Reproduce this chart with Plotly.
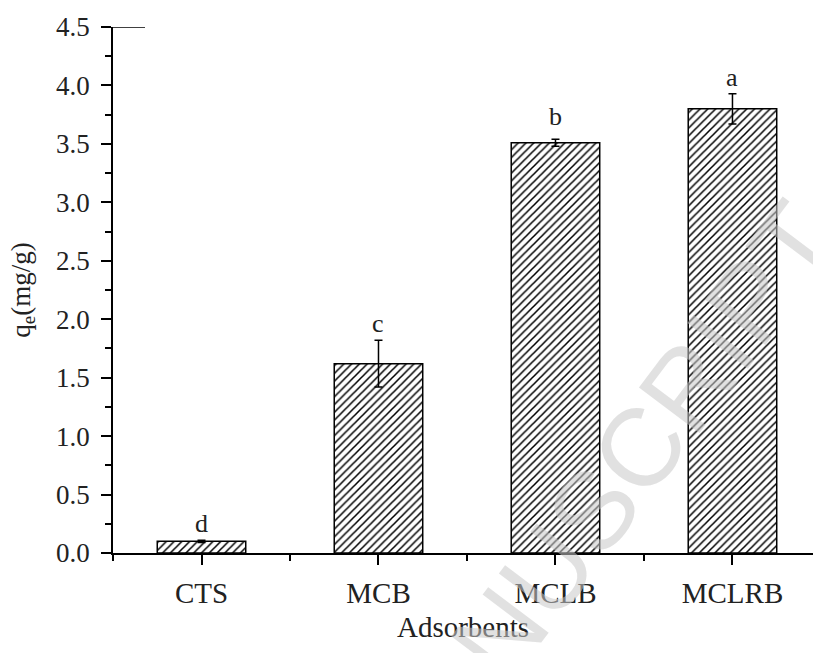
import plotly.graph_objects as go

categories = ["CTS", "MCB", "MCLB", "MCLRB"]
qe_values = [0.10, 1.62, 3.51, 3.80]
qe_errors = [0.01, 0.20, 0.03, 0.13]
sig_letters = ["d", "c", "b", "a"]
y_ticks = [0.0, 0.5, 1.0, 1.5, 2.0, 2.5, 3.0, 3.5, 4.0, 4.5]

xpos = list(range(len(categories)))

fig = go.Figure()
fig.add_trace(go.Bar(
    x=xpos, y=qe_values, width=0.5,
    marker=dict(
        color="white",
        line=dict(color="black", width=1.5),
        pattern=dict(shape="/", fgcolor="black", bgcolor="white",
                     size=5.5, solidity=0.28, fillmode="replace"),
    ),
    error_y=dict(type="data", array=qe_errors, visible=True,
                 color="black", thickness=1.5, width=4),
    showlegend=False,
))

serif = "Liberation Serif, Times New Roman, serif"

for xi, v, e, lab in zip(xpos, qe_values, qe_errors, sig_letters):
    fig.add_annotation(x=xi, y=v + e, text=lab, showarrow=False,
                       xref="x", yref="y", yanchor="bottom",
                       yshift=6 if lab == "b" else 0,
                       font=dict(family=serif, size=26, color="#222"))

# watermark
fig.add_annotation(x=560 / 813, y=1 - 597 / 653, xref="paper", yref="paper",
                   text="MANUSCRIPT", showarrow=False, textangle=-53,
                   font=dict(family="Liberation Sans, Arial, sans-serif", size=110,
                             color="rgba(200,200,200,0.55)"),
                   xanchor="center", yanchor="middle")

# short stub at top of y axis
fig.add_shape(type="line", xref="paper", yref="y", x0=0, x1=32 / 700, y0=4.5, y1=4.5,
              line=dict(color="black", width=1.5))

fig.update_layout(
    width=813, height=653,
    margin=dict(l=113, r=0, t=27, b=100, pad=0),
    plot_bgcolor="white", paper_bgcolor="white",
    font=dict(family=serif, color="#222"),
    xaxis=dict(
        range=[-0.5, 3.455],
        tickmode="array", tickvals=xpos, ticktext=categories,
        ticks="outside", ticklen=10, tickwidth=1.5, tickcolor="black",
        showline=True, linecolor="black", linewidth=1.5,
        showgrid=False, zeroline=False,
        tickfont=dict(family=serif, size=29, color="#222"),
        ticklabelstandoff=3,
        minor=dict(tickmode="array", tickvals=[-0.5, 0.5, 1.5, 2.5],
                   ticks="outside", ticklen=6, tickwidth=1.5, tickcolor="black"),
        title=dict(text="Adsorbents", font=dict(family=serif, size=29, color="#222"),
                   standoff=9),
    ),
    yaxis=dict(
        range=[0, 4.5],
        tickmode="array", tickvals=y_ticks, tickformat=".1f",
        ticks="outside", ticklen=10, tickwidth=1.5, tickcolor="black",
        showline=True, linecolor="black", linewidth=1.5,
        showgrid=False, zeroline=False,
        tickfont=dict(family=serif, size=27, color="#222"),
        ticklabelstandoff=6,
        minor=dict(dtick=0.25, ticks="outside", ticklen=6, tickwidth=1.5,
                   tickcolor="black"),
        title=dict(text="q<sub>e</sub>(mg/g)", font=dict(family=serif, size=27, color="#222"),
                   standoff=18),
    ),
)

fig.write_html("out.html")
